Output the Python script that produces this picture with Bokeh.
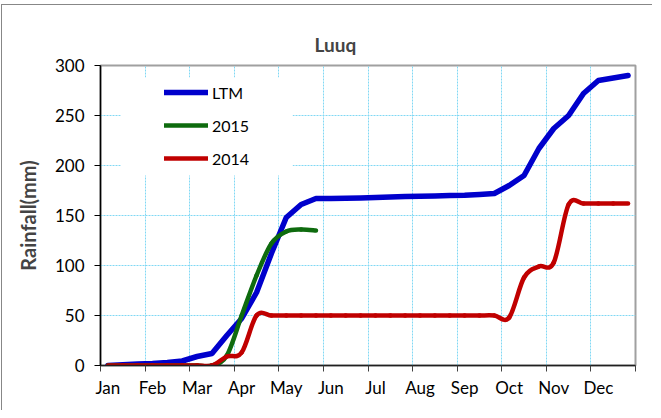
from bokeh.plotting import figure
from bokeh.models import Range1d, FixedTicker, Legend, LegendItem, BoxAnnotation, ColumnDataSource
from bokeh.embed import file_html
from bokeh.resources import INLINE

# ---- data (dekadal cumulative rainfall, mm) ----
months = ["Jan", "Feb", "Mar", "Apr", "May", "Jun", "Jul", "Aug", "Sep", "Oct", "Nov", "Dec"]
ltm = [0, 0.8, 1.5, 2, 3, 4.5, 9, 12, 30, 47, 73, 112,
       148, 161, 167, 167, 167.3, 167.6, 168, 168.5, 169, 169.3, 169.6, 170,
       170.3, 171, 172, 180, 190, 217, 237, 250, 272, 285, 287.5, 290]
y2015 = [0, 0, 0, 0, 0, 0, 0, 0, 10, 50, 90, 122, 134, 136, 135]
y2014 = [0, 0, 0, 0, 0, 0, 0, 0, 9, 13, 50, 50,
         50, 50, 50, 50, 50, 50, 50, 50, 50, 50, 50, 50,
         50, 50, 50, 48, 88, 99, 103, 161, 162, 162, 162, 162]
y_ticks = [0, 50, 100, 150, 200, 250, 300]

FONT = "Lato"
BLUE, GREEN, RED = "#0000CC", "#0E6B0E", "#C00000"
GRID = "#80D8F4"


def xs_for(vals):
    return [i + 0.5 for i in range(len(vals))]


def smooth_source(vals):
    """Bezier segments (Excel-like smoothed line) through the data points."""
    xs = xs_for(vals)
    pts = list(zip(xs, vals))
    n = len(pts)
    d = dict(x0=[], y0=[], x1=[], y1=[], cx0=[], cy0=[], cx1=[], cy1=[])
    for j in range(n - 1):
        pm, p0, p1, p2 = pts[max(j - 1, 0)], pts[j], pts[j + 1], pts[min(j + 2, n - 1)]
        d["x0"].append(p0[0]); d["y0"].append(p0[1])
        d["x1"].append(p1[0]); d["y1"].append(p1[1])
        d["cx0"].append(p0[0] + (p1[0] - pm[0]) / 6); d["cy0"].append(p0[1] + (p1[1] - pm[1]) / 6)
        d["cx1"].append(p1[0] - (p2[0] - p0[0]) / 6); d["cy1"].append(p1[1] - (p2[1] - p0[1]) / 6)
    return ColumnDataSource(d)


p = figure(width=651, height=406, output_backend="svg", toolbar_location=None,
           x_range=Range1d(0, 36), y_range=Range1d(0, 300),
           min_border_left=98, min_border_right=18, min_border_top=60, min_border_bottom=46,
           background_fill_color="white", border_fill_color="white")
p.margin = (4, 0, 0, 1)
p.styles = {"border-left": "1px solid #878787", "border-top": "1px solid #878787"}

# title
p.title.text = "Luuq"
p.title.align = "left"
p.title.offset = 214
p.title.standoff = 19
p.title.text_font = FONT
p.title.text_font_size = "19px"
p.title.text_font_style = "bold"

p.outline_line_color = "#A0A0A0"
p.outline_line_width = 2

# x axis: labels at first dekad of each month, ticks at month boundaries
label_pos = [3 * k + 0.5 for k in range(12)]
bounds = [3 * k for k in range(13)]
p.xaxis.ticker = FixedTicker(ticks=label_pos, minor_ticks=bounds)
p.xaxis.major_label_overrides = {pos: m for pos, m in zip(label_pos, months)}
p.xaxis.major_tick_line_color = None
p.xaxis.major_tick_out = 6
p.xaxis.major_tick_in = 0
p.xaxis.minor_tick_line_color = "#404040"
p.xaxis.minor_tick_out = 6
p.xaxis.minor_tick_in = 0
p.xaxis.axis_line_color = "#202020"
p.xaxis.axis_line_width = 1.5
p.xaxis.major_label_standoff = 5
p.xaxis.major_label_text_font = FONT
p.xaxis.major_label_text_font_size = "17px"
p.xaxis.major_label_text_color = "black"

# y axis
p.yaxis.ticker = FixedTicker(ticks=y_ticks)
p.yaxis.major_tick_out = 6
p.yaxis.major_tick_in = 0
p.yaxis.minor_tick_line_color = None
p.yaxis.axis_line_color = "black"
p.yaxis.axis_line_width = 1.5
p.yaxis.major_tick_line_color = "black"
p.yaxis.major_label_standoff = 10
p.yaxis.major_label_text_font = FONT
p.yaxis.major_label_text_font_size = "17px"
p.yaxis.major_label_text_color = "black"
p.yaxis.axis_label = "Rainfall(mm)"
p.yaxis.axis_label_text_font = FONT
p.yaxis.axis_label_text_font_size = "20px"
p.yaxis.axis_label_text_font_style = "bold"
p.yaxis.axis_label_standoff = 12

# grids
p.ygrid.grid_line_color = GRID
p.ygrid.grid_line_dash = "2 1"
p.ygrid.grid_line_width = 1
p.xgrid.grid_line_color = None
p.xgrid.minor_grid_line_color = GRID
p.xgrid.minor_grid_line_dash = "2 1"
p.xgrid.minor_grid_line_width = 1

# white legend background area (hides grid like the original)
p.add_layout(BoxAnnotation(left=1.37, right=12.93, bottom=190, top=288,
                           fill_color="white", fill_alpha=1, line_color=None, level="underlay"))

# series
r_ltm = p.line(xs_for(ltm), ltm, line_color=BLUE, line_width=5.5, line_join="round", line_cap="round")
r_15 = p.bezier(x0="x0", y0="y0", x1="x1", y1="y1", cx0="cx0", cy0="cy0", cx1="cx1", cy1="cy1",
                source=smooth_source(y2015), line_color=GREEN, line_width=4.5, line_cap="round")
r_14 = p.bezier(x0="x0", y0="y0", x1="x1", y1="y1", cx0="cx0", cy0="cy0", cx1="cx1", cy1="cy1",
                source=smooth_source(y2014), line_color=RED, line_width=4.5, line_cap="round")

legend = Legend(items=[LegendItem(label="LTM", renderers=[r_ltm]),
                       LegendItem(label="2015", renderers=[r_15]),
                       LegendItem(label="2014", renderers=[r_14])],
                location=(64, 197), orientation="vertical",
                glyph_width=44, glyph_height=20, label_height=20, label_standoff=4,
                spacing=13, padding=8, margin=0,
                border_line_color=None, background_fill_color="white", background_fill_alpha=0,
                label_text_font=FONT, label_text_font_size="16px", label_text_color="black")
p.add_layout(legend)

open("out.html", "w").write(file_html(p, INLINE))
